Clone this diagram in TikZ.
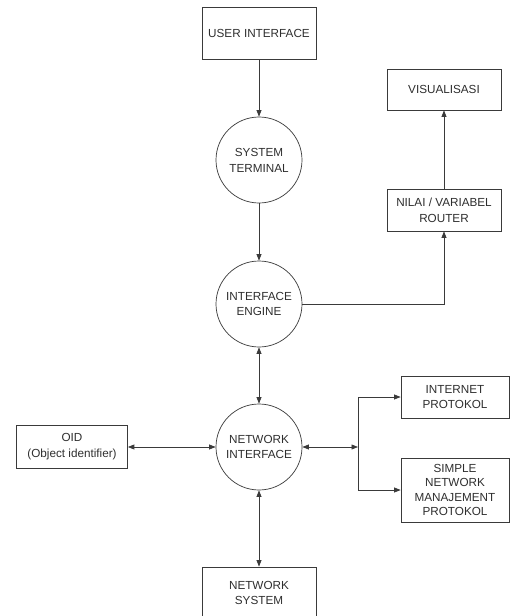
\documentclass[tikz,border=0pt]{standalone}
\usepackage{fontspec}
\setmainfont{Liberation Sans}
\usepackage{xcolor}
\usetikzlibrary{arrows.meta,positioning}
\definecolor{Ln}{HTML}{3A3A3A}
\definecolor{Tx}{HTML}{2E2E2E}

\begin{document}
\begin{tikzpicture}[x=0.03cm,y=-0.03cm,
  every node/.style={text=Tx,align=center,font=\fontsize{10}{13.5}\selectfont},
  box/.style={draw=Ln,line width=.6pt,minimum width=3.42cm,minimum height=1.26cm,inner sep=1pt},
  proc/.style={draw=Ln,line width=.6pt,circle,minimum size=2.58cm,inner sep=0pt},
  link/.style={draw=Ln,line width=.6pt,-{Triangle[length=5.5pt,width=4.2pt]}},
  both/.style={link,{Triangle[length=5.5pt,width=4.2pt]}-{Triangle[length=5.5pt,width=4.2pt]}}]
\useasboundingbox (0,0) rectangle (512,616);
\node[box,minimum height=1.56cm] (ui) at (259,33) {USER INTERFACE};
\node[proc] (st) at (259,160) {SYSTEM\\TERMINAL};
\node[proc] (ie) at (259,304) {INTERFACE\\ENGINE};
\node[proc] (ni) at (259,447) {NETWORK\\INTERFACE};
\node[box,minimum height=1.56cm] (ns) at (259,593) {NETWORK\\SYSTEM};
\node[box,minimum width=3.33cm,minimum height=1.29cm] (oid) at (72,447) {OID\\(Object identifier)};
\node[box,minimum height=1.23cm] (vis) at (444,89.5) {VISUALISASI};
\node[box] (nilai) at (444,210) {NILAI / VARIABEL\\ROUTER};
\node[box,minimum width=3.24cm] (ip) at (455,397) {INTERNET\\PROTOKOL};
\node[box,minimum width=3.24cm,minimum height=1.92cm,font=\fontsize{10}{12.2}\selectfont] (snmp) at (455,490) {SIMPLE\\NETWORK\\MANAJEMENT\\PROTOKOL};
\coordinate (jn) at (358,447);
% alur utama
\draw[link] (ui) -- (st);
\draw[link] (st) -- (ie);
\draw[both] (ie) -- (ni);
\draw[both] (ni) -- (ns);
\draw[both] (oid) -- (ni);
% cabang kanan
\draw[link] (ie) -| (nilai);
\draw[link] (nilai) -- (vis);
\draw[both] (ni) -- (jn);
\draw[link] (jn) |- (ip);
\draw[link] (jn) |- (snmp);
\end{tikzpicture}
\end{document}
